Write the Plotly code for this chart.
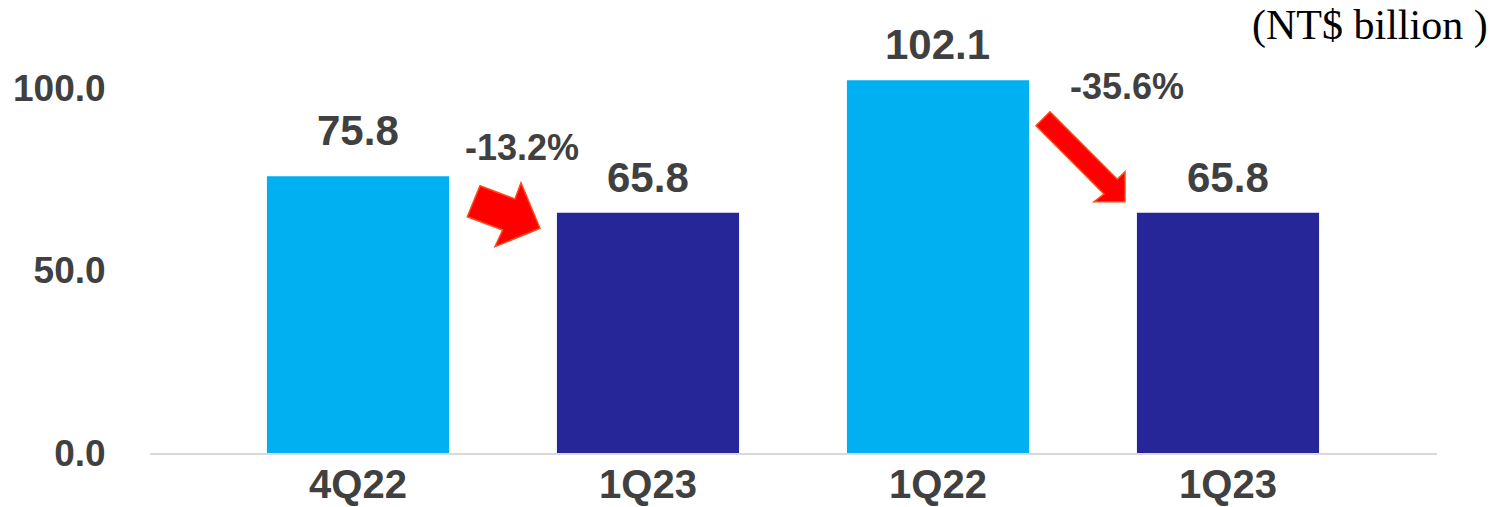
import plotly.graph_objects as go

# Quarterly figures, NT$ billion
quarters = ["4Q22", "1Q23", "1Q22", "1Q23"]
values = [75.8, 65.8, 102.1, 65.8]
bar_colors = ["#00B0F0", "#262699", "#00B0F0", "#262699"]
change_labels = ["-13.2%", "-35.6%"]
y_ticks = [0, 50, 100]

TEXT = "#404040"
SANS = "Liberation Sans, Arial, sans-serif"

positions = list(range(len(quarters)))

fig = go.Figure(
    go.Bar(
        x=positions,
        y=values,
        marker=dict(color=bar_colors, line=dict(width=0)),
        width=0.628,
        hoverinfo="skip",
    )
)

# value labels above each bar
label_gap = [20, 10, 10, 10]
annotations = []
for xi, v, g in zip(positions, values, label_gap):
    annotations.append(dict(
        x=xi, y=v, xref="x", yref="y", text=f"<b>{v:.1f}</b>",
        showarrow=False, yanchor="bottom", yshift=g,
        font=dict(family=SANS, size=42, color=TEXT),
    ))

# percentage change labels
for txt, (ax, ay) in zip(change_labels, [(0.566, 83.6), (2.652, 100.5)]):
    annotations.append(dict(
        x=ax, y=ay, xref="x", yref="y", text=f"<b>{txt}</b>",
        showarrow=False, xanchor="center", yanchor="middle",
        font=dict(family=SANS, size=36, color=TEXT),
    ))

# unit label
annotations.append(dict(
    x=1.0412, y=0.975, xref="paper", yref="paper", text="(NT$ billion )",
    showarrow=False, xanchor="right", yanchor="middle",
    font=dict(family="Liberation Serif, Times New Roman, serif", size=42, color="#000000"),
))

# block arrows drawn as polygons, in pixel offsets from an anchor between bars
arrow1 = [(467.3, 216.7), (480, 185.7), (515, 199), (521, 182.7), (540, 228.3),
          (495, 246.7), (502.7, 230)]
arrow2 = [(1050, 111.7), (1036, 125.7), (1104, 194), (1094, 201.7), (1125, 201.7),
          (1125, 171.7), (1117.3, 179.3)]

def arrow_shape(pts, anchor_x, anchor_px):
    path = "M " + " L ".join(f"{px - anchor_px:.1f},{453 - py:.1f}" for px, py in pts) + " Z"
    return dict(
        type="path", path=path, xref="x", yref="y",
        xsizemode="pixel", ysizemode="pixel", xanchor=anchor_x, yanchor=0,
        fillcolor="#FF0000", line=dict(color="#FF4A1A", width=1.5), layer="above",
    )

shapes = [arrow_shape(arrow1, 0.5, 503), arrow_shape(arrow2, 2.5, 1083)]

fig.update_layout(
    width=1505, height=507,
    margin=dict(l=150, r=68, t=15, b=54, autoexpand=False),
    plot_bgcolor="white", paper_bgcolor="white",
    showlegend=False,
    annotations=annotations,
    shapes=shapes,
    xaxis=dict(
        range=[-0.7172, 3.7207],
        tickvals=positions, ticktext=quarters,
        tickfont=dict(family=SANS, size=40, color=TEXT, weight="bold"),
        showgrid=False, zeroline=False,
        showline=True, linecolor="#D9D9D9", linewidth=2,
        ticks="", ticklabelstandoff=-5,
        automargin=False,
        fixedrange=True,
    ),
    yaxis=dict(
        range=[0, 120],
        tickvals=y_ticks, ticktext=[f"{t:.1f}" for t in y_ticks],
        tickfont=dict(family=SANS, size=37, color=TEXT, weight="bold"),
        showgrid=False, zeroline=False, showline=False,
        ticks="outside", ticklen=36, tickcolor="rgba(0,0,0,0)",
        automargin=False,
        fixedrange=True,
    ),
)

fig.write_html("out.html")
